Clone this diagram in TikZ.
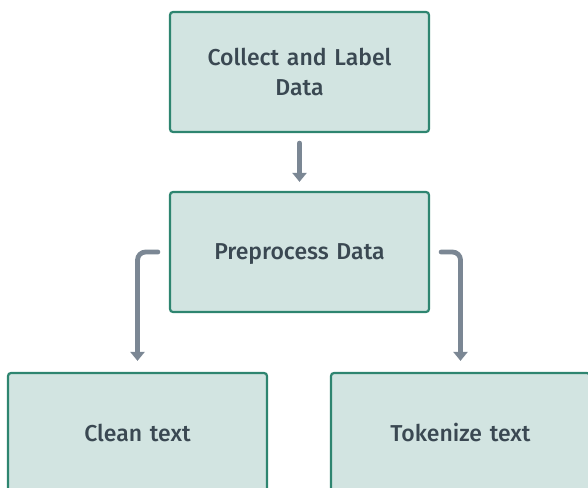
\documentclass[tikz,border=0pt]{standalone}
\usepackage{fontspec}
\setmainfont{Fira Sans Medium}
\usetikzlibrary{positioning,arrows.meta}
\definecolor{boxfill}{HTML}{D2E4E1}
\definecolor{boxline}{HTML}{2E8570}
\definecolor{inkgray}{HTML}{3A4852}
\definecolor{arrgray}{HTML}{7B8794}
\tikzset{
  box/.style={draw=boxline, line width=2.2pt, rounded corners=3pt, fill=boxfill, align=center, text=inkgray, font=\fontsize{23}{30}\selectfont, minimum width=259pt, minimum height=120pt, text width=240pt},
  arr/.style={-{Triangle[length=9pt,width=14pt]}, line width=4.8pt, arrgray, line cap=round}}

\begin{document}
\begin{tikzpicture}[x=1pt, y=1pt, node distance=57.8pt and 0pt]
\useasboundingbox (0,0) rectangle (588,-487);
\node[box] (collect) at (299.5,-72) {Collect and Label\\Data};
\node[box, text depth=0pt, below=of collect] (prep) {Preprocess Data};
\node[box, below=58.8pt of prep, xshift=-162pt] (clean) {Clean text};
\node[box, below=58.8pt of prep, xshift=161pt] (token) {Tokenize text};
\coordinate[left=11pt of prep.west] (pl);
\coordinate[right=11pt of prep.east] (pr);
\draw[arr, shorten <=10pt, shorten >=9pt] (collect) -- (prep);
\draw[arr, rounded corners=8pt, shorten >=11pt] (pl) -| (clean.north);
\draw[arr, rounded corners=8pt, shorten >=11pt] (pr) -| (token.north);
\end{tikzpicture}
\end{document}
